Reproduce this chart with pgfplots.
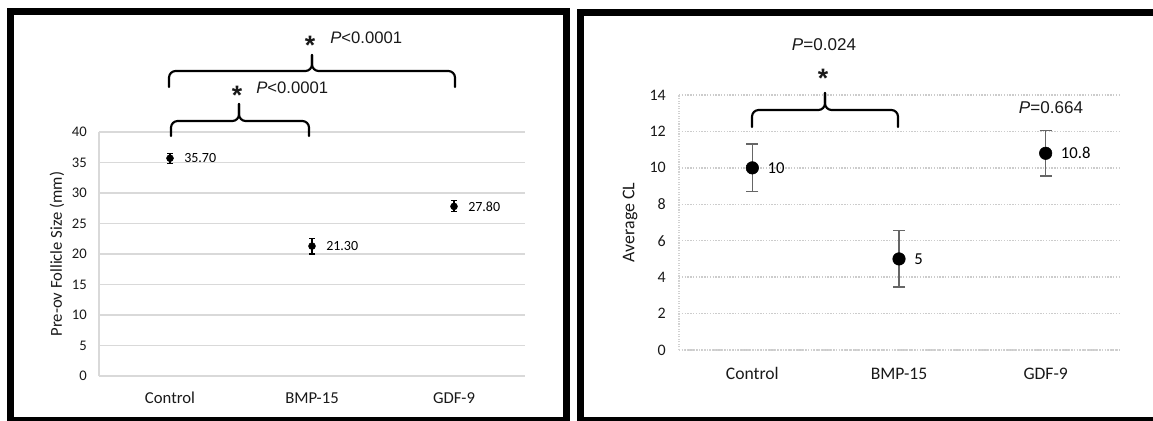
\documentclass[border=0pt]{standalone}
\usepackage{pgfplots}
\pgfplotsset{compat=1.18}
\usepackage{fontspec}
\setmainfont{Carlito}
\newfontfamily\arial{Liberation Sans}
\begin{document}
\begin{tikzpicture}
\useasboundingbox (0,0) rectangle (864.75pt,-315.75pt);
% ---------------- left panel ----------------
\begin{axis}[
  at={(74.25pt,-282pt)}, anchor=south west,
  width=319.5pt, height=183pt, scale only axis,
  xmin=-0.5, xmax=2.5, ymin=0, ymax=40,
  xtick={0,1,2}, xticklabels={Control,BMP-15,GDF-9},
  ytick={0,5,...,40},
  axis lines*=left,
  axis line style={-, draw=gray!30, line width=0.9pt},
  major tick length=0pt,
  ymajorgrids, grid style={draw=gray!30, line width=0.9pt},
  /pgf/number format/assume math mode=true,
  yticklabel style={font=\fontsize{11}{13}\selectfont, text=black!90, anchor=east, inner sep=0pt, xshift=-9pt},
  xticklabel style={font=\fontsize{12.5}{14}\selectfont, text=black!90, anchor=base, inner sep=0pt, yshift=-20.25pt},
  ylabel={Pre-ov Follicle Size (mm)},
  ylabel style={font=\fontsize{12.5}{14}\selectfont, text=black!90, at={(axis description cs:-0.0986,0.5)}, anchor=center, inner sep=0pt},
  clip=false,
]
\addplot[only marks, mark=*, mark size=2.6pt, black, mark options={fill=black},
  nodes near coords, point meta=explicit symbolic,
  nodes near coords style={anchor=west, inner sep=0pt, xshift=10.5pt, font=\fontsize{10.5}{12}\selectfont, text=black},
  error bars/.cd, y dir=both, y explicit,
  error bar style={black, line width=0.8pt},
  error mark options={rotate=90, mark size=2.25pt, line width=0.8pt, black}]
  table[x=x, y=y, y error=e, meta=l] {
x y e l
0 35.7 0.8 35.70
1 21.3 1.3 21.30
2 27.8 0.9 27.80
};
\end{axis}
% ---------------- right panel ----------------
\begin{axis}[
  at={(509.25pt,-262.5pt)}, anchor=south west,
  width=330pt, height=191.25pt, scale only axis,
  xmin=-0.5, xmax=2.5, ymin=0, ymax=14,
  xtick={0,1,2}, xticklabels={Control,BMP-15,GDF-9},
  ytick={0,2,...,14},
  axis lines*=left,
  axis line style={-, draw=gray!35, line width=0.9pt, densely dotted},
  major tick length=0pt,
  ymajorgrids, grid style={draw=gray!40, line width=1.1pt, densely dotted},
  /pgf/number format/assume math mode=true,
  yticklabel style={font=\fontsize{12}{14}\selectfont, text=black!90, anchor=east, inner sep=0pt, xshift=-9.75pt},
  xticklabel style={font=\fontsize{13.2}{15}\selectfont, text=black!90, anchor=base, inner sep=0pt, yshift=-21.75pt},
  ylabel={Average CL},
  ylabel style={font=\fontsize{13.4}{15}\selectfont, text=black!90, at={(axis description cs:-0.111,0.5)}, anchor=center, inner sep=0pt},
  clip=false,
]
\addplot[only marks, mark=*, mark size=4.7pt, black, mark options={fill=black},
  nodes near coords, point meta=explicit symbolic,
  nodes near coords style={anchor=west, inner sep=0pt, xshift=11.25pt, font=\fontsize{12.5}{14}\selectfont, text=black},
  error bars/.cd, y dir=both, y explicit,
  error bar style={gray!80!black, line width=1.1pt},
  error mark options={rotate=90, mark size=4.5pt, line width=1.1pt, gray!80!black}]
  table[x=x, y=y, y error=e, meta=l] {
x y e l
0 10 1.3 10
1 5 1.55 5
2 10.8 1.25 10.8
};
\end{axis}
% ---------------- frames, braces, texts ----------------
\begin{scope}[x=0.75pt, y=-0.75pt]
  \draw[line width=5.25pt] (10.5,11.5) rectangle (566,420.5);
  \draw[line width=5.25pt] (580,12) rectangle (1157,420.5);
  \begin{scope}[line width=1.6pt, rounded corners=5pt, line cap=round]
    % left lower brace
    \draw (171,136) -- (171,121) -- (239,121) -- (239,104);
    \draw (309,136) -- (309,121) -- (239,121) -- (239,104);
    % left upper brace
    \draw (169,87) -- (169,71) -- (312,71) -- (312,55);
    \draw (455,87) -- (455,71) -- (312,71) -- (312,55);
    % right brace
    \draw (752,127) -- (752,110) -- (825,110) -- (825,93);
    \draw (898,127) -- (898,110) -- (825,110) -- (825,93);
  \end{scope}
  \begin{scope}[every node/.style={inner sep=0pt, text=black!90, font=\arial\fontsize{12.5}{14}\selectfont}]
    \node[font=\arial\bfseries\fontsize{20}{22}\selectfont] at (310,45) {*};
    \node[anchor=west] at (330,38) {\textit{P}<0.0001};
    \node[font=\arial\bfseries\fontsize{20}{22}\selectfont] at (237,95) {*};
    \node[anchor=west] at (256,88) {\textit{P}<0.0001};
    \node[font=\arial\fontsize{12.8}{14}\selectfont] at (824,45) {\textit{P}=0.024};
    \node[font=\arial\bfseries\fontsize{20}{22}\selectfont] at (823,78) {*};
    \node[font=\arial\fontsize{12.8}{14}\selectfont] at (1051,108) {\textit{P}=0.664};
  \end{scope}
\end{scope}
\end{tikzpicture}
\end{document}
